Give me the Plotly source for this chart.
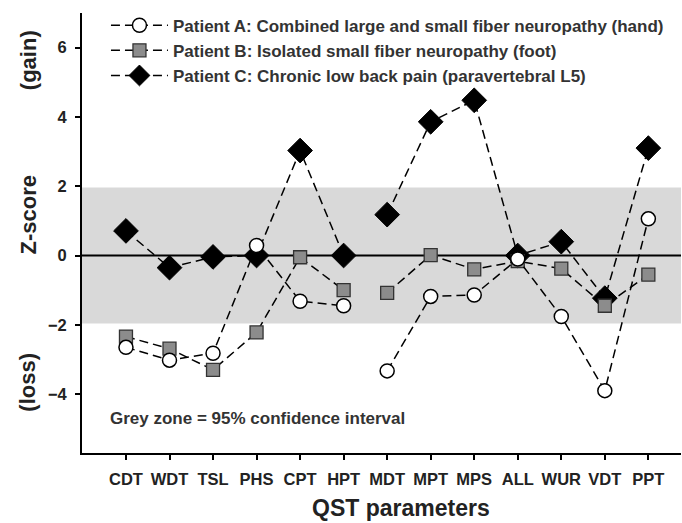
import plotly.graph_objects as go

categories = ["CDT", "WDT", "TSL", "PHS", "CPT", "HPT", "MDT", "MPT", "MPS", "ALL", "WUR", "VDT", "PPT"]
patient_a = [-2.65, -3.02, -2.82, 0.29, -1.32, -1.45, -3.33, -1.18, -1.14, -0.1, -1.76, -3.9, 1.06]
patient_b = [-2.34, -2.69, -3.3, -2.22, -0.05, -1.0, -1.08, 0.01, -0.4, -0.16, -0.38, -1.45, -0.55]
patient_c = [0.71, -0.35, -0.04, 0.0, 3.03, 0.0, 1.18, 3.86, 4.48, 0.0, 0.4, -1.23, 3.1]
names = ["Patient A: Combined large and small fiber neuropathy (hand)",
         "Patient B: Isolated small fiber neuropathy (foot)",
         "Patient C: Chronic low back pain (paravertebral L5)"]
split = 6  # thermal (CDT..HPT) | mechanical (MDT..PPT)
ci = 1.96

FONT = "Liberation Sans"
fig = go.Figure()

styles = [
    dict(symbol="circle", size=14, color="white", line=dict(color="black", width=1.5)),
    dict(symbol="square", size=13, color="#8c8c8c", line=dict(color="#333333", width=1.3)),
    dict(symbol="diamond", size=19, color="black", line=dict(color="black", width=1)),
]
series = [patient_a, patient_b, patient_c]
ranks = [1, 2, 3]

# draw C first, then B, then A on top
for idx in [2, 1, 0]:
    vals = series[idx]
    for part, (lo, hi) in enumerate([(0, split), (split, len(categories))]):
        fig.add_trace(go.Scatter(
            x=list(range(lo, hi)), y=vals[lo:hi],
            mode="lines+markers",
            name=names[idx],
            legendgroup=names[idx],
            legendrank=ranks[idx],
            showlegend=(part == 0),
            line=dict(color="black", width=1.5, dash="9px,5px"),
            marker=styles[idx],
            cliponaxis=False,
        ))

fig.add_shape(type="rect", xref="paper", yref="y", x0=0, x1=1, y0=-ci, y1=ci,
              fillcolor="#d9d9d9", line=dict(width=0), layer="below")
fig.add_shape(type="line", xref="paper", yref="y", x0=0, x1=1, y0=0, y1=0,
              line=dict(color="black", width=2), layer="below")

fig.add_annotation(text="Grey zone = 95% confidence interval", xref="paper", yref="y",
                   x=0.043, y=-4.7, xanchor="left", yanchor="middle", showarrow=False,
                   font=dict(family=FONT, size=17, color="#333333", weight="bold"))

for txt, yp in [("(gain)", 0.893), ("Z-score", 0.54), ("(loss)", 0.16)]:
    fig.add_annotation(text=txt, xref="paper", yref="paper", x=-0.09, y=yp,
                       textangle=-90, showarrow=False, xanchor="center", yanchor="middle",
                       font=dict(family=FONT, size=22, color="#222222", weight="bold"))

fig.add_annotation(text="QST parameters", xref="paper", yref="paper", x=0.533, y=-0.125,
                   xanchor="center", yanchor="middle", showarrow=False,
                   font=dict(family=FONT, size=23, color="#222222", weight="bold"))

fig.update_layout(
    width=682, height=523,
    margin=dict(l=82, r=1, t=13, b=70),
    plot_bgcolor="white", paper_bgcolor="white",
    font=dict(family=FONT, color="#222222"),
    showlegend=True,
    legend=dict(x=0.04, y=1.012, xanchor="left", yanchor="top",
                bgcolor="rgba(0,0,0,0)", tracegroupgap=0, itemwidth=57,
                font=dict(family=FONT, size=17, color="#333333", weight="bold")),
    xaxis=dict(
        range=[-1.01, 12.75], tickmode="array",
        tickvals=list(range(len(categories))), ticktext=categories,
        showgrid=False, zeroline=False, showline=True, linecolor="black", linewidth=2,
        ticks="outside", ticklen=5, tickwidth=1.5, tickcolor="black",
        tickfont=dict(family=FONT, size=16.5, color="#222222", weight="bold"),
        ticklabelstandoff=5,
    ),
    yaxis=dict(
        range=[-5.7, 7.0], tickvals=[-4, -2, 0, 2, 4, 6],
        showgrid=False, zeroline=False, showline=True, linecolor="black", linewidth=2,
        ticks="outside", ticklen=5, tickwidth=1.5, tickcolor="black",
        tickfont=dict(family=FONT, size=16.5, color="#222222", weight="bold"),
        ticklabelstandoff=5,
    ),
)

fig.write_html("out.html", config={"displayModeBar": False},
               post_script="document.body.style.margin='0';")
